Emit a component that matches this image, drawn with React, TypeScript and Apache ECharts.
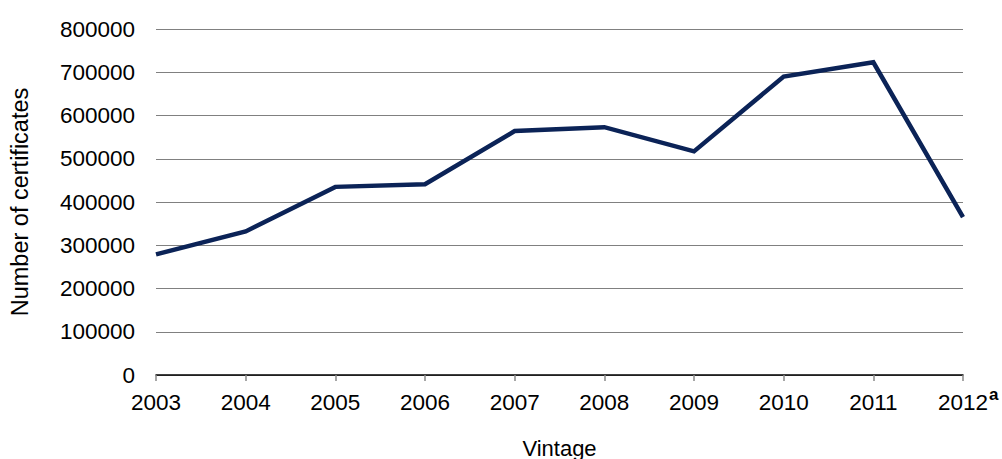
import React, { useEffect, useRef } from "react";
import * as echarts from "echarts";

const years = ["2003", "2004", "2005", "2006", "2007", "2008", "2009", "2010", "2011", "2012"];
const certificates = [279000, 332000, 435000, 441000, 564000, 573000, 517000, 690000, 723000, 365000];
const yTicks = { min: 0, max: 800000, interval: 100000 };

export default function App() {
  const ref = useRef<HTMLDivElement>(null);
  useEffect(() => {
    const chart = echarts.init(ref.current!, null, { renderer: "svg" });
    chart.setOption({
      animation: false,
      textStyle: { fontFamily: "Liberation Sans, Arial, sans-serif" },
      grid: { left: 156, right: 39, top: 29, bottom: 84, outerBoundsMode: "none", containLabel: false },
      xAxis: {
        type: "category",
        data: years,
        boundaryGap: false,
        name: "Vintage",
        nameLocation: "middle",
        nameGap: 62,
        nameTextStyle: { fontSize: 22, color: "#000" },
        axisLine: { lineStyle: { color: "#000", width: 1.5 } },
        axisTick: { show: true, length: 6, lineStyle: { color: "#888", width: 1.5 } },
        axisLabel: { fontSize: 22.5, color: "#000", margin: 16 },
      },
      yAxis: {
        type: "value",
        min: yTicks.min,
        max: yTicks.max,
        interval: yTicks.interval,
        name: "Number of certificates",
        nameLocation: "middle",
        nameGap: 124,
        nameTextStyle: { fontSize: 23.5, color: "#000" },
        axisLine: { show: false },
        axisTick: { show: false },
        axisLabel: { fontSize: 22.5, color: "#000", margin: 21, formatter: (v: number) => String(v) },
        splitLine: { lineStyle: { color: "#808080", width: 1.2 } },
      },
      series: [
        {
          type: "line",
          data: certificates,
          symbol: "none",
          lineStyle: { color: "#0b2357", width: 4.5, join: "miter" },
        },
      ],
      graphic: [
        {
          type: "text",
          left: 989,
          top: 386,
          style: { text: "a", fontSize: 17, fontWeight: "bold", fill: "#000", fontFamily: "Liberation Sans, Arial, sans-serif" },
        },
      ],
    });
    return () => chart.dispose();
  }, []);
  return <div ref={ref} style={{ position: "absolute", left: 0, top: 0, width: 1002, height: 459 }} />;
}
